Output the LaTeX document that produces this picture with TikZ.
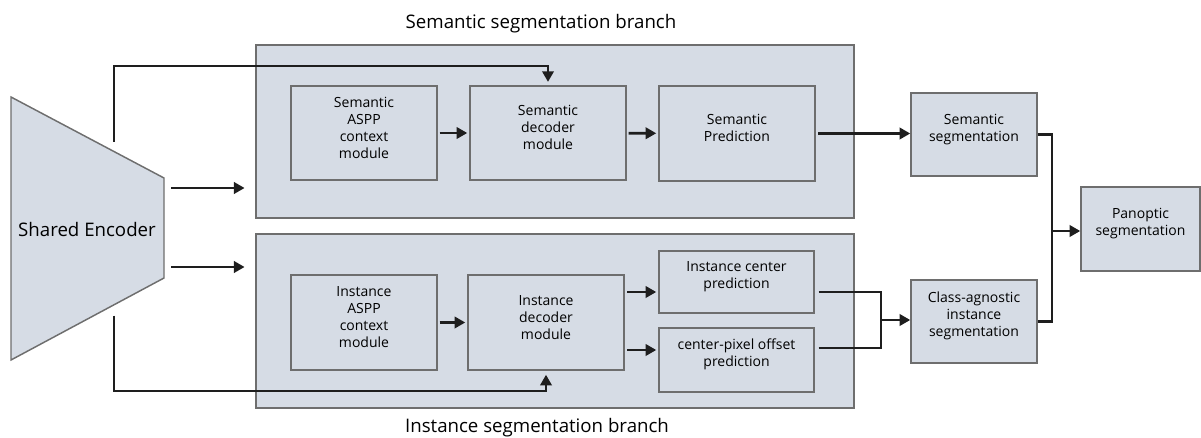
\documentclass[tikz,border=0pt]{standalone}
\usepackage{fontspec}
\setmainfont{Open Sans}
\usetikzlibrary{arrows.meta,fit,calc}
\definecolor{boxfill}{HTML}{D6DCE5}
\definecolor{boxline}{HTML}{6E6E6E}
\definecolor{arrcol}{HTML}{1E1E1E}
\begin{document}
\begin{tikzpicture}[x=0.75pt,y=-0.75pt,
  box/.style={draw=boxline, fill=boxfill, line width=1.1pt, inner sep=0pt, align=center, font=\fontsize{10.5}{12.75}\selectfont},
  branch/.style={draw=boxline, fill=boxfill, line width=1.1pt, inner sep=0pt},
  conn/.style={draw=arrcol, line width=2pt},
  arr/.style={conn, -{Triangle[length=8pt,width=8.5pt]}},
  title/.style={font=\fontsize{14}{16}\selectfont, inner sep=0pt}
]
\useasboundingbox (0,0) rectangle (1201,438);
% branch containers
\node[branch, fit={(256,45)(854,218)}] (semb) {};
\node[branch, fit={(256,234)(854,408)}] (insb) {};
\node[title] (tsem) at (541,24) {Semantic segmentation branch};
\node[title] (tins) at (537,428) {Instance segmentation branch};
% encoder
\draw[branch] (11,97) -- (164,178) -- (164,278) -- (11,360) -- cycle;
\node[title] (enc) at (87,229) {Shared Encoder};
\coordinate (encT) at (114,151);
\coordinate (encB) at (114,305);
\coordinate (encR1) at (171,188);
\coordinate (encR2) at (171,267);
\coordinate (topY) at (114,66);
\coordinate (botY) at (114,391);
% boxes
\node[box, fit={(291,86)(437,180)}] (sasp) {Semantic\\ASPP\\context\\module};
\node[box, fit={(470,86)(626,180)}] (sdec) {Semantic\\decoder\\module};
\node[box, fit={(659,86)(815,181)}] (spred) {Semantic\\Prediction};
\node[box, fit={(911,93)(1037,176)}] (sseg) {Semantic\\segmentation};
\node[box, fit={(291,275)(437,370)}] (iasp) {Instance\\ASPP\\context\\module};
\node[box, fit={(468,275)(624,370)}] (idec) {Instance\\decoder\\module};
\node[box, fit={(659,251)(814,313)}] (icp) {Instance center\\prediction};
\node[box, fit={(659,328)(814,392)}] (ofs) {center-pixel offset\\prediction};
\node[box, fit={(911,280)(1037,363)}] (cls) {Class-agnostic\\instance\\segmentation};
\node[box, fit={(1081,187)(1200,271)}] (pan) {Panoptic\\segmentation};
% helper coordinates
\coordinate (y292) at (0,292);
\coordinate (y350) at (0,350);
\coordinate (y348) at (0,348);
\coordinate (j1) at (881,320);
\coordinate (j2) at (1052,231);
% connectors
\draw[arr, shorten <=7pt, shorten >=2.5pt] (encT) -- (topY) -| (sdec.north);
\draw[arr, shorten <=8pt, shorten >=3pt] (encB) -- (botY) -| (idec.south);
\draw[arr, shorten >=8pt] (encR1) -- (semb.west |- encR1);
\draw[arr, shorten >=8pt] (encR2) -- (insb.west |- encR2);
\draw[arr, shorten <=1.5pt, shorten >=1.5pt] (sasp) -- (sdec);
\draw[arr, shorten <=1.5pt, shorten >=1.5pt] (sdec) -- (spred);
\draw[arr, shorten <=1.5pt, shorten >=1.5pt] (iasp) -- (idec);
\draw[arr, shorten <=2pt] (spred.east) -- (sseg.west |- spred.east);
\draw[arr, shorten <=2pt, shorten >=1.5pt] (idec.east |- y292) -- (icp.west |- y292);
\draw[arr, shorten <=2pt, shorten >=1.5pt] (idec.east |- y350) -- (ofs.west |- y350);
\draw[conn, shorten <=3pt] (icp.east |- y292) -| (j1);
\draw[conn, shorten <=3pt] (ofs.east |- y348) -| (j1);
\draw[arr] (j1) -- (cls.west |- j1);
\draw[conn] (sseg.east) -| (j2);
\draw[conn] (cls.east) -| (j2);
\draw[arr] (j2) -- (pan.west |- j2);
\end{tikzpicture}
\end{document}
